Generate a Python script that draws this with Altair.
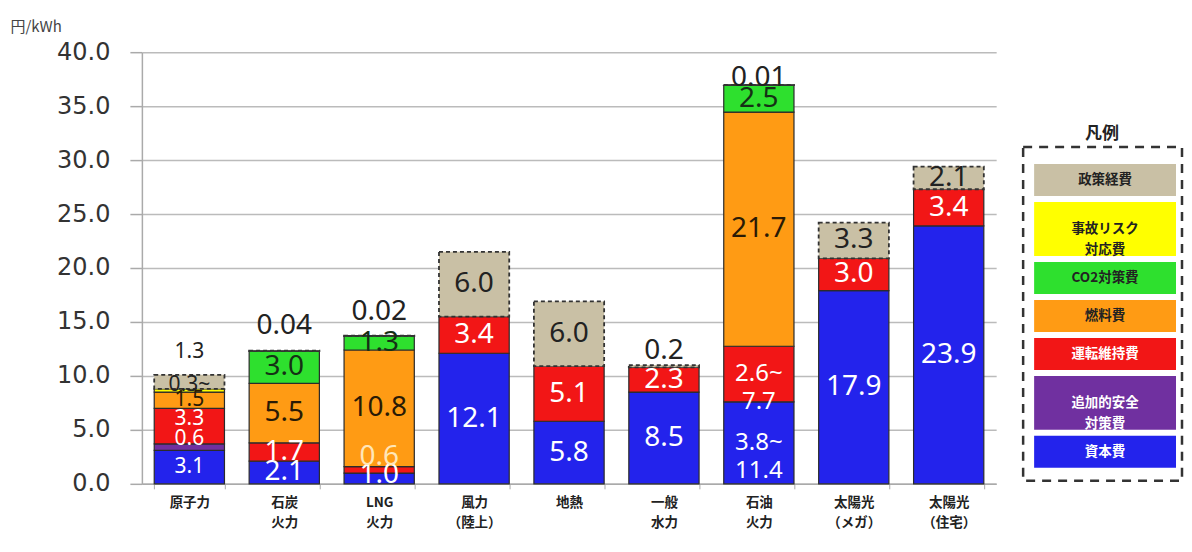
import altair as alt
import pandas as pd

# ---------------- data ----------------
categories = ["原子力", "石炭|火力", "LNG|火力", "風力|（陸上）", "地熱",
              "一般|水力", "石油|火力", "太陽光|（メガ）", "太陽光|（住宅）"]
components = ["資本費", "追加的安全対策費", "運転維持費", "燃料費",
              "CO2対策費", "事故リスク対応費", "政策経費"]
legend_labels = ["資本費", "追加的安全|対策費", "運転維持費", "燃料費",
                 "CO2対策費", "事故リスク|対応費", "政策経費"]

capital = [3.1, 2.1, 1.0, 12.1, 5.8, 8.5, 7.6, 17.9, 23.9]
safety = [0.6, 0, 0, 0, 0, 0, 0, 0, 0]
om = [3.3, 1.7, 0.6, 3.4, 5.1, 2.3, 5.15, 3.0, 3.4]
fuel = [1.5, 5.5, 10.8, 0, 0, 0, 21.7, 0, 0]
co2 = [0, 3.0, 1.3, 0, 0, 0, 2.5, 0, 0]
accident = [0.3, 0, 0, 0, 0, 0, 0, 0, 0]
policy = [1.3, 0.04, 0.02, 6.0, 6.0, 0.2, 0.01, 3.3, 2.1]

capital_lbl = ["3.1", "2.1", "1.0", "12.1", "5.8", "8.5", "3.8~|11.4", "17.9", "23.9"]
safety_lbl = ["0.6", "", "", "", "", "", "", "", ""]
om_lbl = ["3.3", "1.7", "0.6", "3.4", "5.1", "2.3", "2.6~|7.7", "3.0", "3.4"]
fuel_lbl = ["1.5", "5.5", "10.8", "", "", "", "21.7", "", ""]
co2_lbl = ["", "3.0", "1.3", "", "", "", "2.5", "", ""]
accident_lbl = ["0.3~", "", "", "", "", "", "", "", ""]
policy_lbl = ["1.3", "0.04", "0.02", "6.0", "6.0", "0.2", "0.01", "3.3", "2.1"]

# ---------------- styles ----------------
colors = ["#2323EC", "#7030A0", "#F21616", "#FF9B14", "#2EE02E", "#FFFF00", "#C9C0A5"]
text_colors = ["white", "white", "white", "#2a1a05", "#153015", "#222222", "#222222"]
PX_PER_UNIT = 432 / 40.0
# label nudges in pixels (upward)
nudges = {
    ("原子力", "運転維持費"): 7, ("原子力", "追加的安全対策費"): 8,
    ("原子力", "事故リスク対応費"): 5, ("LNG|火力", "運転維持費"): 13,
    ("LNG|火力", "資本費"): 3,
    ("原子力", "政策経費"): 23, ("石炭|火力", "政策経費"): 25,
    ("LNG|火力", "政策経費"): 24, ("一般|水力", "政策経費"): 14,
    ("石油|火力", "政策経費"): 7,
}
label_colors_override = {("LNG|火力", "運転維持費"): "#FFE6B8"}

series = [capital, safety, om, fuel, co2, accident, policy]
labels = [capital_lbl, safety_lbl, om_lbl, fuel_lbl, co2_lbl, accident_lbl, policy_lbl]

rows = []
for i, cat in enumerate(categories):
    for k, comp in enumerate(components):
        lbl = labels[k][i]
        if cat == "原子力":
            fs = 21
        elif "|" in lbl:
            fs = 24
        else:
            fs = 28
        rows.append({
            "category": cat, "component": comp, "order": k,
            "value": series[k][i], "label": lbl,
            "above": bool(comp == "政策経費" and series[k][i] < 1.5),
            "nudge": nudges.get((cat, comp), 0),
            "tcolor": label_colors_override.get((cat, comp), text_colors[k]),
            "fsize": fs,
        })
df = pd.DataFrame(rows)

x_enc = alt.X("category:N", sort=categories, title=None,
              scale=alt.Scale(paddingInner=0.26, paddingOuter=0.13),
              axis=alt.Axis(labelExpr="split(datum.label, '|')", labelAngle=0,
                            labelFontSize=13.5, labelFontWeight="bold",
                            labelFont="Noto Sans CJK JP", labelColor="#222",
                            labelPadding=7, labelLineHeight=20,
                            tickBand="extent", tickSize=5, tickColor="#aaa",
                            domainColor="#aaa", domainWidth=1.5, grid=False))
y_axis = alt.Axis(values=list(range(0, 41, 5)), format=".1f",
                  labelFont="DejaVu Sans", labelFontSize=24, labelColor="#333",
                  labelPadding=20, tickSize=12, tickColor="#aaa", tickWidth=1.5,
                  domainColor="#aaa", domainWidth=1.5,
                  gridColor="#bbbbbb", gridWidth=1.5,
                  title="円/kWh", titleAngle=0, titleAlign="left",
                  titleBaseline="bottom", titleX=-132, titleY=-18,
                  titleFont="Noto Sans CJK JP", titleFontSize=15,
                  titleFontWeight="normal", titleColor="#444")
y_scale = alt.Scale(domain=[0, 40], nice=False)
color_enc = alt.Color("component:N", scale=alt.Scale(domain=components, range=colors),
                      legend=None)

base = alt.Chart(df).transform_stack(
    stack="value", groupby=["category"],
    sort=[alt.SortField("order", "ascending")], as_=["y0", "y1"])

bars_solid = base.transform_filter(
    "datum.value > 0 && datum.component != '政策経費'"
).mark_bar(stroke="#2b2b2b", strokeWidth=1.2).encode(
    x=x_enc, y=alt.Y("y0:Q", scale=y_scale, axis=y_axis), y2="y1:Q", color=color_enc)

bars_dash = base.transform_filter(
    "datum.value > 0 && datum.component == '政策経費'"
).mark_bar(stroke="#333333", strokeWidth=1.8, strokeDash=[4, 3]).encode(
    x=x_enc, y=alt.Y("y0:Q", scale=y_scale, axis=y_axis), y2="y1:Q", color=color_enc)

texts = base.transform_filter("datum.label != ''").transform_calculate(
    ly=f"(datum.above ? datum.y1 : (datum.y0 + datum.y1) / 2) + datum.nudge / {PX_PER_UNIT}"
).mark_text(lineBreak="|", font="Noto Sans", baseline="middle", align="center",
            lineHeight=28).encode(
    x=x_enc, y=alt.Y("ly:Q", scale=y_scale, axis=y_axis), text="label:N",
    color=alt.Color("tcolor:N", scale=None),
    size=alt.Size("fsize:Q", scale=None))

main = alt.layer(bars_solid, bars_dash, texts).properties(width=855, height=432)

# ---------------- custom legend ----------------
leg_rows = []
top = 112
for k in reversed(range(len(components))):
    n_lines = legend_labels[k].count("|") + 1
    h = 10 + 22 * n_lines
    leg_rows.append({"component": components[k], "text": legend_labels[k],
                     "top": top, "bottom": top + h, "mid": top + h / 2,
                     "tcolor": text_colors[k] if k not in (3, 4) else "#222222"})
    top += h + 6
leg_df = pd.DataFrame(leg_rows)

leg_base = alt.Chart(leg_df)
leg_rects = leg_base.mark_rect().encode(
    x=alt.value(12), x2=alt.value(154),
    y=alt.Y("top:Q", scale=None), y2="bottom:Q",
    color=alt.Color("component:N", scale=alt.Scale(domain=components, range=colors),
                    legend=None))
leg_text = leg_base.mark_text(lineBreak="|", font="Noto Sans CJK JP", fontSize=13.5,
                              fontWeight="bold", lineHeight=21, baseline="middle").encode(
    x=alt.value(83), y=alt.Y("mid:Q", scale=None), text="text:N",
    color=alt.Color("tcolor:N", scale=None))
leg_box = alt.Chart(pd.DataFrame({"b": [1]})).mark_rect(
    fill="transparent", stroke="#333333", strokeWidth=2.5, strokeDash=[9, 7]).encode(
    x=alt.value(1), x2=alt.value(160), y=alt.value(95), y2=alt.value(429))
leg_title = alt.Chart(pd.DataFrame({"t": ["凡例"]})).mark_text(
    font="Noto Sans CJK JP", fontSize=17, fontWeight="bold", color="#222",
    baseline="middle").encode(x=alt.value(80), y=alt.value(82), text="t:N")

legend = alt.layer(leg_box, leg_rects, leg_text, leg_title).properties(width=161, height=432)

chart = alt.hconcat(main, legend, spacing=26, bounds="flush").properties(
    padding={"left": 2, "top": 11, "right": 0, "bottom": 5},
    background="white"
).configure_view(stroke="transparent", strokeWidth=0)

chart.save("out.html", embed_options={"renderer": "svg", "actions": False})
